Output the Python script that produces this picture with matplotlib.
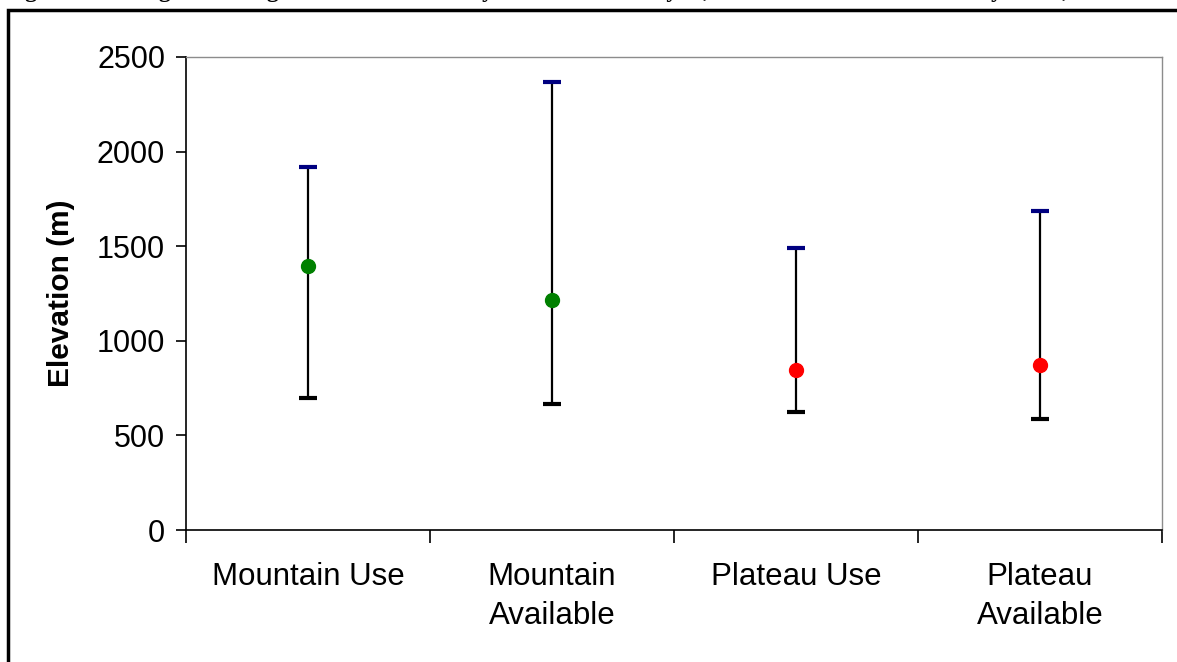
import matplotlib
matplotlib.use("Agg")
import matplotlib.pyplot as plt
from matplotlib.patches import Rectangle

# Elevation summaries (m): mean with min/max range per group
categories = ["Mountain Use", "Mountain\nAvailable", "Plateau Use", "Plateau\nAvailable"]
mean_elev = [1395, 1215, 845, 870]
max_elev = [1920, 2370, 1490, 1685]
min_elev = [700, 668, 624, 588]
point_colors = ["#008000", "#008000", "#FF0000", "#FF0000"]
y_ticks = [0, 500, 1000, 1500, 2000, 2500]

plt.rcParams["font.family"] = ["Liberation Sans", "DejaVu Sans"]

fig = plt.figure(figsize=(11.77, 6.62), dpi=100)
ax = fig.add_axes([186 / 1177, 1 - 530 / 662, (1162 - 186) / 1177, (530 - 57) / 662])

x = list(range(len(categories)))

# range lines
ax.vlines(x, min_elev, max_elev, colors="black", linewidth=1.6, zorder=2)
# caps: navy on top, black at bottom
ax.plot(x, max_elev, linestyle="none", marker="_", markersize=13,
        markeredgewidth=3.0, color="#000080", zorder=3)
ax.plot(x, min_elev, linestyle="none", marker="_", markersize=13,
        markeredgewidth=3.0, color="black", zorder=3)
# means
for xi, m, c in zip(x, mean_elev, point_colors):
    ax.plot(xi, m, marker="o", markersize=10, color=c,
            markeredgecolor=c, zorder=4)

ax.set_xlim(-0.5, len(categories) - 0.5)
ax.set_ylim(0, 2500)
ax.set_yticks(y_ticks)
ax.set_yticklabels([str(v) for v in y_ticks], fontsize=22)
ax.tick_params(axis="y", direction="out", length=7, width=1.2, pad=8)

# category boundary ticks (major) and centred labels (minor)
ax.set_xticks([i - 0.5 for i in range(len(categories) + 1)])
ax.set_xticklabels([])
ax.tick_params(axis="x", which="major", direction="out", length=9, width=1.2)
ax.set_xticks(x, minor=True)
ax.set_xticklabels(categories, minor=True, fontsize=22.5, linespacing=1.4)
ax.tick_params(axis="x", which="minor", length=0, pad=23)

ax.set_ylabel("Elevation (m)", fontsize=21.5, fontweight="bold", labelpad=16)

for side in ("top", "right"):
    ax.spines[side].set_color("#8c8c8c")
    ax.spines[side].set_linewidth(1.0)
for side in ("left", "bottom"):
    ax.spines[side].set_color("black")
    ax.spines[side].set_linewidth(1.2)

# outer chart border running off the page edges
fig.patches.append(Rectangle((8 / 1177, -0.2), 1.3, 1 - 10 / 662 + 0.2,
                             transform=fig.transFigure, fill=False,
                             edgecolor="black", linewidth=2.5, clip_on=False))

# figure caption sitting above the border
fig.text(4 / 1177, 1.0 + 3.5 / 662,
         "Figure 4. Average and range of elevation used by and available to yak, Mountain and Plateau study areas, 2004.",
         fontsize=17, fontweight="bold", family=["Liberation Serif", "DejaVu Serif"],
         ha="left", va="baseline")

fig.savefig("out.png", dpi=100)
